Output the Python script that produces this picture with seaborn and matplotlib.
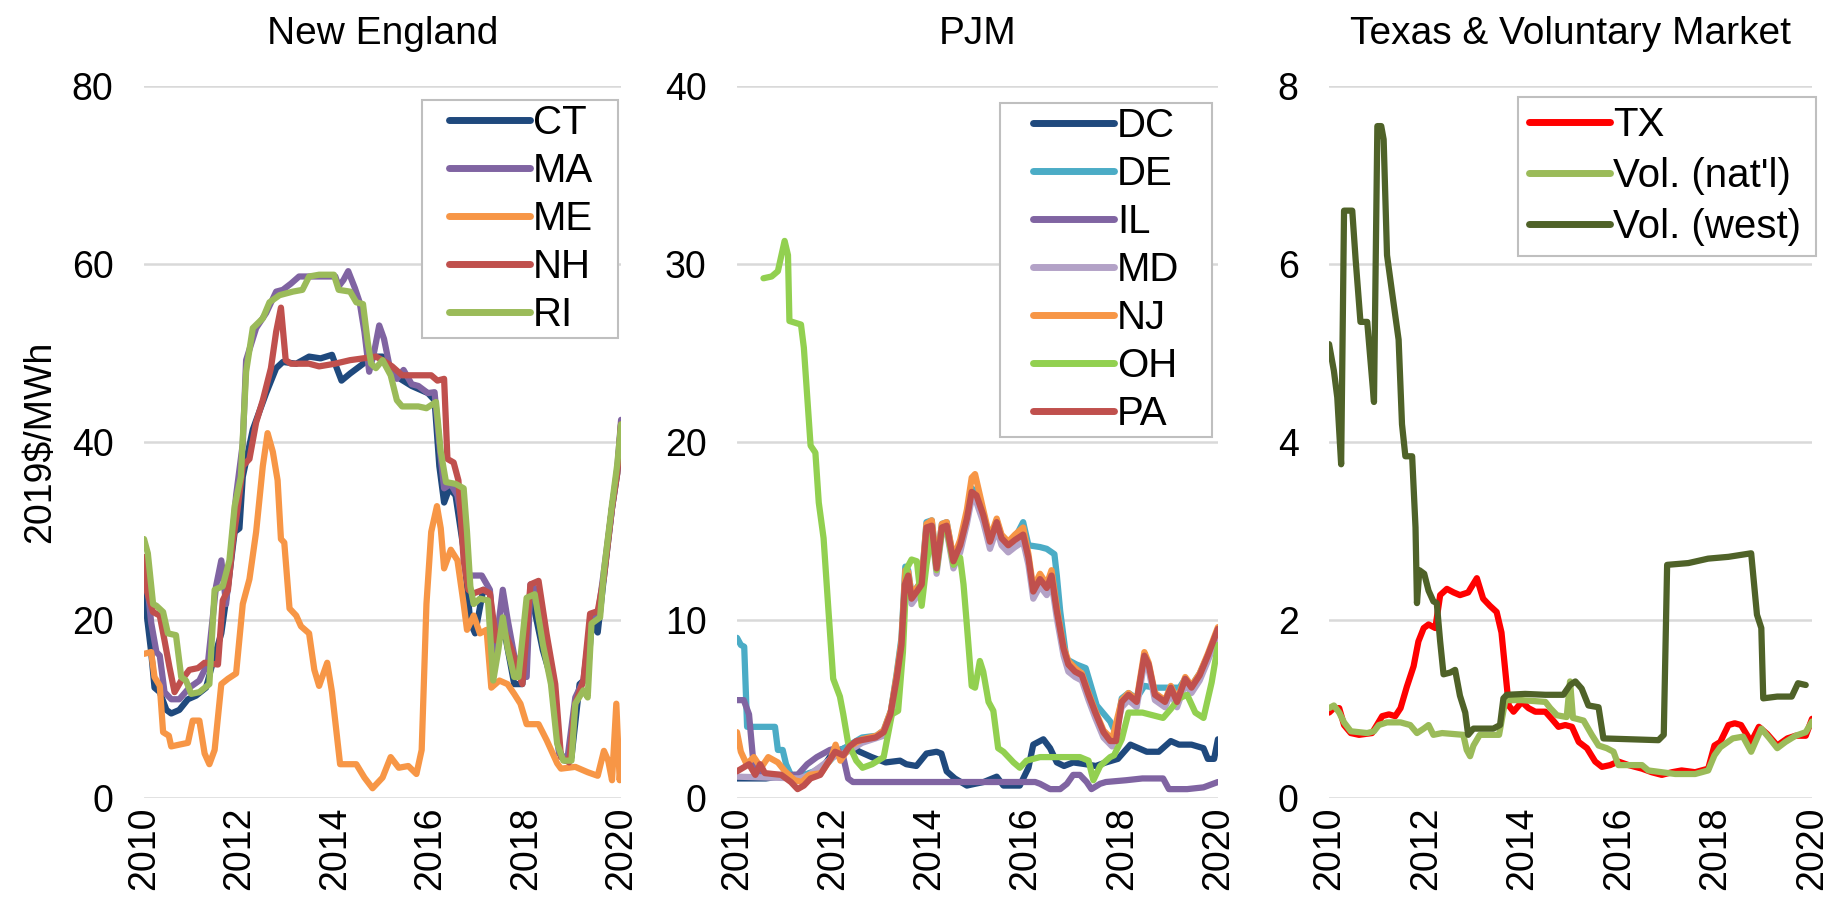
"""
REC price history by market: three side-by-side seaborn line panels
(New England, PJM, Texas & voluntary market), 2010-2020.
"""

import numpy as np
import pandas as pd
import matplotlib.pyplot as plt
import seaborn as sns
from matplotlib.lines import Line2D
from matplotlib.legend_handler import HandlerLine2D

# ---- New England (2019$/MWh), (year, value) pairs ----
ct = [(2010.0, 23.4), (2010.05, 20.9), (2010.15, 16.4), (2010.22, 12.4), (2010.33, 11.9),
      (2010.47, 9.9), (2010.57, 9.5), (2010.74, 9.9), (2010.92, 11.1), (2011.09, 11.5),
      (2011.30, 12.4), (2011.44, 15.2), (2011.62, 18.5), (2011.76, 23.8), (2011.90, 29.9),
      (2012.0, 30.3), (2012.07, 36.1), (2012.28, 41.4), (2012.56, 45.5), (2012.77, 48.3),
      (2012.91, 49.0), (2013.19, 48.8), (2013.46, 49.6), (2013.70, 49.4), (2013.94, 49.8),
      (2014.04, 48.3), (2014.14, 46.9), (2014.32, 47.7), (2014.52, 48.5), (2014.69, 49.2),
      (2014.86, 49.6), (2015.0, 49.6), (2015.20, 48.3), (2015.37, 47.1), (2015.61, 46.3),
      (2015.95, 45.5), (2016.09, 44.7), (2016.19, 37.3), (2016.29, 33.2), (2016.40, 34.8),
      (2016.53, 34.0), (2016.70, 27.9), (2016.84, 19.7), (2016.94, 18.5), (2017.11, 23.4),
      (2017.25, 23.0), (2017.35, 16.0), (2017.45, 19.3), (2017.59, 17.7), (2017.76, 12.8),
      (2017.93, 12.8), (2018.10, 23.3), (2018.36, 16.6), (2018.57, 12.8), (2018.70, 5.3),
      (2018.83, 4.2), (2018.96, 4.6), (2019.13, 12.8), (2019.30, 13.6), (2019.38, 19.6),
      (2019.51, 18.6), (2019.64, 24.8), (2019.81, 32.6), (2019.92, 36.5), (2020.0, 42.0)]
ma = [(2010.0, 25.8), (2010.08, 23.4), (2010.15, 19.7), (2010.26, 16.4), (2010.33, 16.0),
      (2010.43, 11.9), (2010.57, 11.1), (2010.74, 11.1), (2010.95, 12.4), (2011.16, 13.2),
      (2011.34, 15.2), (2011.51, 23.8), (2011.62, 26.7), (2011.72, 21.8), (2011.83, 27.9),
      (2011.93, 34.0), (2012.07, 39.8), (2012.14, 49.2), (2012.35, 52.8), (2012.56, 54.5),
      (2012.77, 56.9), (2012.91, 57.1), (2013.08, 57.8), (2013.25, 58.6), (2013.46, 58.6),
      (2013.77, 58.6), (2014.01, 58.6), (2014.08, 57.5), (2014.18, 58.2), (2014.28, 59.2),
      (2014.42, 57.3), (2014.52, 55.7), (2014.62, 52.4), (2014.72, 47.9), (2014.83, 50.3),
      (2014.93, 53.1), (2015.03, 51.6), (2015.17, 47.9), (2015.30, 47.1), (2015.44, 48.1),
      (2015.61, 46.5), (2015.75, 46.3), (2015.95, 45.5), (2016.09, 45.6), (2016.19, 39.8),
      (2016.29, 34.8), (2016.43, 35.3), (2016.57, 34.0), (2016.70, 29.9), (2016.80, 25.0),
      (2016.94, 25.0), (2017.08, 25.0), (2017.25, 23.4), (2017.35, 16.0), (2017.52, 23.4),
      (2017.62, 20.1), (2017.76, 16.0), (2018.02, 13.6), (2018.10, 24.0), (2018.20, 23.5),
      (2018.36, 18.1), (2018.53, 13.6), (2018.70, 5.0), (2018.87, 4.2), (2019.04, 11.3),
      (2019.21, 13.2), (2019.38, 20.7), (2019.51, 20.3), (2019.64, 25.5), (2019.81, 32.6),
      (2019.92, 37.0), (2020.0, 42.5)]
me = [(2010.0, 16.2), (2010.15, 16.4), (2010.22, 13.6), (2010.33, 12.6), (2010.40, 7.4),
      (2010.52, 7.0), (2010.57, 5.8), (2010.74, 6.0), (2010.92, 6.2), (2011.02, 8.7),
      (2011.16, 8.7), (2011.27, 5.0), (2011.37, 3.8), (2011.48, 5.4), (2011.62, 12.8),
      (2011.76, 13.4), (2011.93, 14.0), (2012.07, 21.8), (2012.21, 24.6), (2012.35, 29.9),
      (2012.49, 37.3), (2012.59, 41.0), (2012.70, 38.9), (2012.80, 35.7), (2012.87, 29.1),
      (2012.94, 28.7), (2013.05, 21.3), (2013.19, 20.5), (2013.29, 19.3), (2013.46, 18.5),
      (2013.57, 14.4), (2013.67, 12.6), (2013.84, 15.2), (2013.94, 11.9), (2014.11, 3.8),
      (2014.45, 3.8), (2014.62, 2.3), (2014.79, 1.1), (2015.0, 2.3), (2015.17, 4.6),
      (2015.34, 3.4), (2015.54, 3.6), (2015.71, 2.7), (2015.82, 5.4), (2015.92, 21.8),
      (2016.02, 29.9), (2016.14, 32.8), (2016.22, 30.3), (2016.29, 25.8), (2016.43, 27.9),
      (2016.57, 26.7), (2016.70, 21.8), (2016.77, 18.9), (2016.91, 20.5), (2017.04, 18.5),
      (2017.18, 18.9), (2017.28, 12.4), (2017.45, 13.2), (2017.62, 12.8), (2017.76, 11.7),
      (2017.89, 10.6), (2018.02, 8.3), (2018.27, 8.3), (2018.44, 6.5), (2018.66, 3.9),
      (2018.74, 3.3), (2019.04, 3.5), (2019.30, 2.9), (2019.51, 2.5), (2019.64, 5.3),
      (2019.73, 4.2), (2019.81, 2.0), (2019.90, 10.6), (2019.97, 2.0), (2020.0, 3.9)]
nh = [(2010.0, 27.1), (2010.05, 23.4), (2010.19, 20.9), (2010.33, 20.5), (2010.43, 17.7),
      (2010.53, 14.8), (2010.64, 11.9), (2010.78, 13.2), (2010.95, 14.4), (2011.13, 14.6),
      (2011.27, 15.2), (2011.55, 15.0), (2011.65, 22.2), (2011.76, 23.4), (2011.86, 28.7),
      (2011.96, 32.4), (2012.07, 37.3), (2012.21, 38.1), (2012.35, 42.2), (2012.49, 44.7),
      (2012.66, 48.3), (2012.77, 52.4), (2012.87, 55.1), (2012.97, 49.2), (2013.08, 48.8),
      (2013.46, 48.8), (2013.67, 48.5), (2014.0, 48.8), (2014.32, 49.2), (2014.59, 49.4),
      (2014.86, 49.6), (2015.0, 49.2), (2015.20, 48.5), (2015.41, 47.5), (2016.02, 47.5),
      (2016.15, 46.9), (2016.29, 47.1), (2016.36, 38.1), (2016.49, 37.7), (2016.59, 35.7),
      (2016.70, 26.7), (2016.80, 23.4), (2016.91, 23.0), (2017.11, 23.4), (2017.25, 23.0),
      (2017.38, 17.7), (2017.52, 19.3), (2017.69, 16.9), (2017.93, 12.8), (2018.10, 24.0),
      (2018.27, 24.4), (2018.44, 18.4), (2018.62, 12.8), (2018.74, 4.6), (2018.91, 4.0),
      (2019.04, 10.6), (2019.21, 13.2), (2019.35, 20.7), (2019.51, 21.0), (2019.64, 24.8),
      (2019.81, 32.6), (2019.92, 36.5), (2020.0, 42.0)]
ri = [(2010.0, 29.1), (2010.08, 27.5), (2010.19, 21.8), (2010.26, 21.6), (2010.40, 20.9),
      (2010.50, 18.5), (2010.67, 18.3), (2010.78, 13.6), (2010.88, 13.2), (2010.99, 11.7),
      (2011.16, 11.9), (2011.37, 12.8), (2011.48, 23.4), (2011.65, 23.8), (2011.79, 26.7),
      (2011.90, 32.8), (2012.03, 36.1), (2012.14, 47.9), (2012.28, 52.8), (2012.49, 53.9),
      (2012.63, 55.7), (2012.84, 56.5), (2013.12, 56.9), (2013.32, 57.1), (2013.46, 58.6),
      (2013.67, 58.8), (2013.98, 58.8), (2014.08, 57.1), (2014.32, 56.9), (2014.45, 55.7),
      (2014.59, 55.5), (2014.69, 51.2), (2014.76, 48.8), (2014.86, 48.3), (2015.0, 49.2),
      (2015.17, 47.5), (2015.30, 44.7), (2015.41, 44.0), (2015.75, 44.0), (2015.92, 43.8),
      (2016.12, 44.5), (2016.22, 38.9), (2016.33, 35.5), (2016.53, 35.3), (2016.70, 34.8),
      (2016.77, 29.9), (2016.84, 23.8), (2016.91, 21.8), (2017.04, 22.4), (2017.21, 22.2),
      (2017.32, 13.2), (2017.42, 16.4), (2017.52, 20.3), (2017.62, 16.9), (2017.76, 13.6),
      (2017.85, 13.6), (2018.02, 22.5), (2018.19, 22.9), (2018.36, 17.3), (2018.53, 12.8),
      (2018.66, 6.1), (2018.79, 4.2), (2018.96, 4.2), (2019.04, 10.6), (2019.21, 12.1),
      (2019.30, 11.3), (2019.38, 19.6), (2019.56, 20.3), (2019.64, 25.5), (2019.81, 33.0),
      (2019.92, 37.5), (2020.0, 42.0)]

# ---- PJM ----
dc = [(2010.0, 1.1), (2010.6, 1.1), (2011.12, 1.3), (2011.4, 1.3), (2011.73, 1.5),
      (2011.93, 2.3), (2012.14, 2.7), (2012.34, 2.9), (2012.55, 2.6), (2012.80, 2.3),
      (2013.09, 2.0), (2013.39, 2.1), (2013.52, 1.9), (2013.73, 1.8), (2013.94, 2.5),
      (2014.15, 2.6), (2014.25, 2.5), (2014.36, 1.5), (2014.53, 1.1), (2014.78, 0.7),
      (2014.95, 0.8), (2015.13, 0.9), (2015.40, 1.2), (2015.54, 0.7), (2015.88, 0.7),
      (2016.06, 1.7), (2016.16, 3.0), (2016.37, 3.3), (2016.51, 2.8), (2016.65, 2.0),
      (2016.80, 1.8), (2016.99, 2.0), (2017.25, 1.9), (2017.46, 1.8), (2017.67, 2.0),
      (2017.92, 2.2), (2018.18, 3.0), (2018.52, 2.6), (2018.77, 2.6), (2019.02, 3.2),
      (2019.19, 3.0), (2019.45, 3.0), (2019.70, 2.8), (2019.79, 2.2), (2019.92, 2.2),
      (2020.0, 3.3)]
de = [(2010.0, 9.0), (2010.08, 8.6), (2010.15, 8.5), (2010.21, 4.0), (2010.79, 4.0),
      (2010.85, 2.7), (2010.95, 2.7), (2011.02, 1.9), (2011.12, 1.3), (2011.3, 1.2),
      (2011.6, 1.5), (2011.9, 2.0), (2012.1, 2.6), (2012.35, 3.0), (2012.6, 3.4),
      (2012.9, 3.5), (2013.05, 3.8), (2013.2, 4.9), (2013.32, 7.0), (2013.42, 9.0),
      (2013.5, 13.0), (2013.56, 12.8), (2013.63, 11.4), (2013.84, 12.2), (2013.94, 15.5),
      (2014.05, 15.6), (2014.15, 13.1), (2014.26, 15.4), (2014.36, 15.5), (2014.5, 13.4),
      (2014.64, 14.3), (2014.78, 15.9), (2014.88, 17.4), (2014.98, 17.2), (2015.12, 16.0),
      (2015.26, 14.5), (2015.4, 15.6), (2015.5, 14.7), (2015.64, 14.3), (2015.78, 14.6),
      (2015.95, 15.5), (2016.06, 14.2), (2016.3, 14.1), (2016.44, 14.0), (2016.6, 13.7),
      (2016.65, 12.5), (2016.72, 10.5), (2016.85, 7.8), (2017.06, 7.5), (2017.25, 7.3),
      (2017.48, 5.2), (2017.76, 4.3), (2017.88, 3.6), (2018.0, 5.6), (2018.14, 5.9),
      (2018.31, 5.6), (2018.47, 6.3), (2018.7, 6.2), (2019.2, 6.2), (2019.32, 6.7),
      (2019.45, 6.3), (2019.62, 7.0), (2019.79, 8.0), (2020.0, 9.3)]
il = [(2010.0, 5.5), (2010.14, 5.5), (2010.25, 4.7), (2010.35, 1.7), (2010.5, 1.3),
      (2011.26, 1.3), (2011.46, 1.9), (2011.66, 2.3), (2011.93, 2.7), (2012.07, 2.8),
      (2012.21, 2.3), (2012.31, 1.1), (2012.41, 0.9), (2016.2, 0.9), (2016.30, 0.8),
      (2016.51, 0.5), (2016.72, 0.5), (2016.86, 0.8), (2016.99, 1.3), (2017.13, 1.3),
      (2017.27, 0.9), (2017.37, 0.5), (2017.55, 0.8), (2017.67, 0.9), (2018.09, 1.0),
      (2018.43, 1.1), (2018.86, 1.1), (2018.98, 0.5), (2019.36, 0.5), (2019.70, 0.6),
      (2020.0, 0.9)]
md = [(2010.0, 1.2), (2011.3, 1.1), (2011.5, 1.3), (2011.75, 1.8), (2012.0, 2.3),
      (2012.3, 2.6), (2012.6, 3.1), (2013.05, 3.5), (2013.2, 4.5), (2013.32, 6.5),
      (2013.42, 8.3), (2013.5, 12.2), (2013.56, 12.2), (2013.63, 10.9), (2013.84, 11.7),
      (2013.94, 14.9), (2014.05, 15.0), (2014.15, 12.6), (2014.26, 14.9), (2014.36, 15.0),
      (2014.5, 12.9), (2014.64, 13.8), (2014.78, 15.4), (2014.88, 16.8), (2014.98, 16.6),
      (2015.12, 15.5), (2015.26, 14.0), (2015.4, 15.1), (2015.5, 14.2), (2015.64, 13.8),
      (2015.78, 14.1), (2015.95, 14.4), (2016.06, 13.1), (2016.16, 11.2), (2016.3, 11.9),
      (2016.44, 11.4), (2016.54, 12.1), (2016.65, 10.1), (2016.79, 8.0), (2016.89, 7.1),
      (2017.03, 6.8), (2017.17, 6.6), (2017.31, 5.5), (2017.45, 4.5), (2017.62, 3.4),
      (2017.8, 2.9), (2018.0, 5.1), (2018.14, 5.5), (2018.31, 5.1), (2018.47, 7.6),
      (2018.56, 7.2), (2018.69, 5.5), (2018.9, 5.1), (2019.02, 5.9), (2019.15, 5.1),
      (2019.32, 6.4), (2019.45, 5.9), (2019.62, 6.6), (2019.79, 7.7), (2020.0, 9.2)]
nj = [(2010.0, 3.7), (2010.08, 2.6), (2010.2, 1.9), (2010.35, 2.3), (2010.5, 1.7),
      (2010.65, 2.3), (2010.85, 2.0), (2011.0, 1.5), (2011.2, 1.0), (2011.35, 0.9),
      (2011.5, 1.3), (2011.75, 1.4), (2011.95, 2.2), (2012.05, 3.0), (2012.15, 2.1),
      (2012.35, 2.9), (2012.6, 3.3), (2012.9, 3.5), (2013.05, 3.8), (2013.2, 4.9),
      (2013.32, 6.9), (2013.42, 8.8), (2013.5, 12.8), (2013.56, 12.7), (2013.63, 11.4),
      (2013.84, 12.2), (2013.94, 15.4), (2014.05, 15.6), (2014.15, 13.1), (2014.26, 15.4),
      (2014.36, 15.5), (2014.5, 13.5), (2014.64, 14.5), (2014.78, 16.2), (2014.88, 18.0),
      (2014.95, 18.2), (2015.12, 16.2), (2015.26, 14.6), (2015.4, 15.7), (2015.5, 14.8),
      (2015.64, 14.4), (2015.78, 14.8), (2015.95, 15.2), (2016.06, 13.7), (2016.16, 11.8),
      (2016.3, 12.6), (2016.44, 12.0), (2016.54, 12.8), (2016.65, 10.7), (2016.79, 8.5),
      (2016.89, 7.7), (2017.03, 7.3), (2017.17, 7.0), (2017.31, 5.9), (2017.45, 4.9),
      (2017.62, 3.8), (2017.8, 3.3), (2018.0, 5.5), (2018.14, 5.9), (2018.31, 5.5),
      (2018.47, 8.2), (2018.56, 7.6), (2018.69, 5.9), (2018.9, 5.5), (2019.02, 6.3),
      (2019.15, 5.5), (2019.32, 6.8), (2019.45, 6.3), (2019.62, 7.0), (2019.79, 8.1),
      (2020.0, 9.6)]
oh = [(2010.55, 29.2), (2010.72, 29.3), (2010.85, 29.6), (2010.99, 31.3), (2011.06, 30.5),
      (2011.09, 26.8), (2011.33, 26.6), (2011.39, 25.3), (2011.53, 19.8), (2011.63, 19.4),
      (2011.70, 16.6), (2011.80, 14.6), (2011.90, 10.6), (2012.0, 6.7), (2012.14, 5.7),
      (2012.21, 4.7), (2012.31, 3.1), (2012.48, 2.1), (2012.61, 1.7), (2012.81, 1.9),
      (2013.05, 2.3), (2013.22, 4.7), (2013.35, 4.9), (2013.45, 8.2), (2013.53, 12.9),
      (2013.63, 13.4), (2013.74, 13.3), (2013.84, 10.8), (2013.94, 13.1), (2014.05, 15.0),
      (2014.15, 12.8), (2014.26, 15.0), (2014.36, 15.1), (2014.50, 13.1), (2014.64, 13.5),
      (2014.71, 12.0), (2014.78, 9.7), (2014.88, 6.3), (2014.95, 6.2), (2015.05, 7.7),
      (2015.12, 7.1), (2015.23, 5.4), (2015.33, 4.9), (2015.43, 2.8), (2015.54, 2.6),
      (2015.75, 2.0), (2015.88, 1.7), (2016.02, 2.1), (2016.30, 2.3), (2016.65, 2.3),
      (2017.13, 2.3), (2017.31, 2.1), (2017.41, 1.0), (2017.55, 1.8), (2017.76, 2.3),
      (2017.84, 2.4), (2018.0, 3.3), (2018.14, 4.8), (2018.43, 4.8), (2018.86, 4.5),
      (2019.02, 5.0), (2019.19, 5.6), (2019.36, 5.8), (2019.53, 4.8), (2019.70, 4.5),
      (2019.87, 6.5), (2020.0, 8.6)]
pa = [(2010.0, 1.5), (2010.25, 1.9), (2010.38, 1.3), (2010.48, 1.9), (2010.58, 1.4),
      (2010.92, 1.3), (2011.12, 0.9), (2011.26, 0.5), (2011.39, 0.7), (2011.53, 1.1),
      (2011.73, 1.3), (2011.87, 1.9), (2012.04, 2.6), (2012.21, 2.4), (2012.34, 2.9),
      (2012.48, 3.2), (2012.68, 3.3), (2012.88, 3.4), (2013.05, 3.7), (2013.19, 4.7),
      (2013.32, 6.7), (2013.42, 8.6), (2013.49, 12.0), (2013.56, 12.5), (2013.63, 11.2),
      (2013.74, 11.6), (2013.84, 12.0), (2013.94, 15.2), (2014.05, 15.3), (2014.15, 12.9),
      (2014.26, 15.2), (2014.36, 15.3), (2014.50, 13.3), (2014.64, 14.2), (2014.78, 15.7),
      (2014.88, 17.2), (2014.98, 17.0), (2015.12, 15.9), (2015.26, 14.4), (2015.40, 15.5),
      (2015.50, 14.6), (2015.64, 14.2), (2015.78, 14.5), (2015.95, 14.8), (2016.06, 13.5),
      (2016.16, 11.6), (2016.30, 12.3), (2016.44, 11.8), (2016.54, 12.5), (2016.65, 10.5),
      (2016.79, 8.4), (2016.89, 7.5), (2017.03, 7.1), (2017.17, 6.9), (2017.31, 5.8),
      (2017.45, 4.8), (2017.62, 3.7), (2017.76, 3.2), (2017.88, 3.2), (2018.0, 5.4),
      (2018.14, 5.8), (2018.31, 5.4), (2018.47, 8.0), (2018.56, 7.5), (2018.69, 5.8),
      (2018.90, 5.4), (2019.02, 6.2), (2019.15, 5.4), (2019.32, 6.7), (2019.45, 6.2),
      (2019.62, 6.9), (2019.79, 8.0), (2020.0, 9.5)]

# ---- Texas & voluntary ----
tx = [(2010.0, 0.96), (2010.10, 1.01), (2010.21, 1.01), (2010.31, 0.82), (2010.45, 0.73),
      (2010.62, 0.71), (2010.89, 0.73), (2010.99, 0.82), (2011.10, 0.92), (2011.24, 0.94),
      (2011.37, 0.92), (2011.48, 1.01), (2011.61, 1.25), (2011.75, 1.48), (2011.85, 1.76),
      (2011.96, 1.91), (2012.06, 1.95), (2012.20, 1.91), (2012.30, 2.28), (2012.44, 2.35),
      (2012.58, 2.31), (2012.71, 2.28), (2012.88, 2.31), (2013.06, 2.47), (2013.19, 2.24),
      (2013.33, 2.16), (2013.47, 2.09), (2013.57, 1.86), (2013.61, 1.64), (2013.72, 1.04),
      (2013.82, 0.97), (2013.99, 1.08), (2014.13, 1.01), (2014.27, 0.97), (2014.48, 0.97),
      (2014.61, 0.89), (2014.75, 0.80), (2014.89, 0.82), (2015.03, 0.80), (2015.17, 0.63),
      (2015.34, 0.56), (2015.51, 0.41), (2015.65, 0.35), (2015.82, 0.37), (2015.99, 0.41),
      (2016.20, 0.37), (2016.48, 0.33), (2016.68, 0.29), (2016.89, 0.26), (2017.10, 0.29),
      (2017.30, 0.31), (2017.58, 0.29), (2017.85, 0.33), (2017.98, 0.59), (2018.10, 0.63),
      (2018.27, 0.82), (2018.40, 0.84), (2018.53, 0.82), (2018.74, 0.63), (2018.90, 0.80),
      (2019.07, 0.72), (2019.28, 0.59), (2019.49, 0.67), (2019.66, 0.70), (2019.87, 0.70),
      (2020.0, 0.89)]
vol_natl = [(2010.0, 1.01), (2010.10, 1.04), (2010.21, 0.96), (2010.31, 0.85), (2010.45, 0.75),
            (2010.79, 0.73), (2010.93, 0.75), (2011.03, 0.82), (2011.20, 0.85), (2011.48, 0.85),
            (2011.68, 0.82), (2011.82, 0.73), (2011.96, 0.78), (2012.06, 0.82), (2012.16, 0.71),
            (2012.34, 0.73), (2012.78, 0.71), (2012.85, 0.54), (2012.92, 0.47), (2012.99, 0.59),
            (2013.12, 0.71), (2013.52, 0.71), (2013.65, 1.10), (2013.99, 1.10), (2014.48, 1.08),
            (2014.58, 1.01), (2014.72, 0.93), (2014.92, 0.91), (2014.99, 1.31), (2015.05, 0.90),
            (2015.13, 0.89), (2015.27, 0.87), (2015.44, 0.71), (2015.58, 0.59), (2015.75, 0.56),
            (2015.89, 0.52), (2015.99, 0.37), (2016.48, 0.37), (2016.61, 0.31), (2016.89, 0.29),
            (2017.17, 0.27), (2017.58, 0.27), (2017.85, 0.31), (2017.98, 0.48), (2018.10, 0.57),
            (2018.36, 0.67), (2018.57, 0.69), (2018.74, 0.52), (2018.95, 0.78), (2019.12, 0.67),
            (2019.28, 0.56), (2019.45, 0.63), (2019.66, 0.70), (2019.87, 0.74), (2020.0, 0.86)]
vol_west = [(2010.0, 5.1), (2010.10, 4.8), (2010.17, 4.5), (2010.25, 3.75), (2010.31, 6.6),
            (2010.48, 6.6), (2010.55, 6.05), (2010.65, 5.35), (2010.79, 5.35), (2010.86, 4.9),
            (2010.93, 4.45), (2011.0, 7.55), (2011.08, 7.55), (2011.13, 7.4), (2011.20, 6.1),
            (2011.30, 5.7), (2011.44, 5.15), (2011.51, 4.2), (2011.58, 3.84), (2011.72, 3.84),
            (2011.79, 3.04), (2011.82, 2.19), (2011.87, 2.56), (2011.97, 2.52), (2012.06, 2.33),
            (2012.16, 2.21), (2012.23, 2.19), (2012.30, 1.76), (2012.37, 1.39), (2012.51, 1.41),
            (2012.61, 1.44), (2012.71, 1.15), (2012.82, 0.96), (2012.88, 0.71), (2012.99, 0.78),
            (2013.40, 0.78), (2013.54, 0.82), (2013.61, 1.12), (2013.68, 1.16), (2014.06, 1.17),
            (2014.48, 1.16), (2014.85, 1.16), (2014.99, 1.27), (2015.10, 1.31), (2015.23, 1.23),
            (2015.37, 1.04), (2015.58, 1.02), (2015.68, 0.67), (2016.82, 0.65), (2016.93, 0.71),
            (2017.0, 2.62), (2017.44, 2.64), (2017.85, 2.69), (2018.27, 2.71), (2018.74, 2.75),
            (2018.86, 2.06), (2018.95, 1.91), (2018.99, 1.12), (2019.28, 1.14), (2019.58, 1.14),
            (2019.71, 1.29), (2019.87, 1.27)]

NE_SERIES = {"CT": ct, "MA": ma, "ME": me, "NH": nh, "RI": ri}
NE_COLORS = {"CT": "#1F497D", "MA": "#8064A2", "ME": "#F79646", "NH": "#C0504D", "RI": "#9BBB59"}
PJM_SERIES = {"DC": dc, "DE": de, "IL": il, "MD": md, "NJ": nj, "OH": oh, "PA": pa}
PJM_COLORS = {"DC": "#1F497D", "DE": "#4BACC6", "IL": "#8064A2", "MD": "#B3A2C7",
              "NJ": "#F79646", "OH": "#92D050", "PA": "#C0504D"}
TX_SERIES = {"TX": tx, "Vol. (nat'l)": vol_natl, "Vol. (west)": vol_west}
TX_COLORS = {"TX": "#FF0000", "Vol. (nat'l)": "#9BBB59", "Vol. (west)": "#4F6228"}

FONT = 27
LEG_FONT = 29
LW = 4.5
GRID = "#D9D9D9"


class InsetLine(HandlerLine2D):
    """Legend line that starts `inset` ems into the handle box (Excel-style padding)."""

    def __init__(self, inset, **kw):
        super().__init__(**kw)
        self.inset = inset

    def get_xdata(self, legend, xdescent, ydescent, width, height, fontsize):
        x = np.array([-xdescent + self.inset * fontsize, -xdescent + width], dtype=float)
        return x, x


def to_frame(series: dict) -> pd.DataFrame:
    rows = [(name, yr, val) for name, pts in series.items() for yr, val in pts]
    return pd.DataFrame(rows, columns=["series", "year", "value"])


def draw_panel(ax, series, colors, title, ymax, ystep, leg_box, inset, spacing, pad):
    df = to_frame(series)
    sns.lineplot(data=df, x="year", y="value", hue="series", hue_order=list(series),
                 palette=colors, estimator=None, sort=False, linewidth=LW, ax=ax)

    ax.set_xlim(2010, 2020)
    ax.set_ylim(0, ymax)
    ax.set_xticks(range(2010, 2021, 2))
    ax.set_yticks(range(0, ymax + 1, ystep))
    ax.tick_params(axis="x", labelrotation=90, length=0, pad=6, labelsize=FONT)
    ax.tick_params(axis="y", length=0, pad=22, labelsize=FONT)
    ax.grid(axis="y", color=GRID, linewidth=1.8)
    ax.grid(axis="x", visible=False)
    ax.set_axisbelow(True)
    for s in ax.spines.values():
        s.set_visible(False)
    ax.set_xlabel("")
    ax.set_ylabel("")
    ax.set_title(title, fontsize=28, pad=30)

    handles, labels = ax.get_legend_handles_labels()
    leg = ax.legend(handles, labels, loc="upper left", bbox_to_anchor=leg_box,
                    mode="expand", borderaxespad=0, frameon=True, fancybox=False,
                    framealpha=1, edgecolor="#BFBFBF", fontsize=LEG_FONT,
                    handlelength=2.0 + inset, handletextpad=0.08,
                    labelspacing=spacing, borderpad=pad,
                    handler_map={Line2D: InsetLine(inset)})
    leg.get_frame().set_linewidth(1.5)
    for line in leg.get_lines():
        line.set_linewidth(5)


sns.set_theme(style="white", rc={"text.color": "black", "axes.labelcolor": "black",
                                 "xtick.color": "black", "ytick.color": "black"})
plt.rcParams["font.family"] = ["Liberation Sans", "DejaVu Sans"]

fig = plt.figure(figsize=(18.37, 9.0), dpi=100)
bottom, height = 0.1133, 0.7911
ax1 = fig.add_axes([0.0784, bottom, 0.2597, height])
ax2 = fig.add_axes([0.4012, bottom, 0.2618, height])
ax3 = fig.add_axes([0.7235, bottom, 0.2629, height])

draw_panel(ax1, NE_SERIES, NE_COLORS, "New England", 80, 20,
           (0.583, 0, 0.411, 0.980), inset=0.58, spacing=0.25, pad=0.09)
draw_panel(ax2, PJM_SERIES, PJM_COLORS, "PJM", 40, 10,
           (0.547, 0, 0.441, 0.976), inset=0.73, spacing=0.25, pad=0.09)
draw_panel(ax3, TX_SERIES, TX_COLORS, "Texas & Voluntary Market", 8, 2,
           (0.391, 0, 0.617, 0.985), inset=0.04, spacing=0.32, pad=0.24)

ax1.set_ylabel(r"2019\$/MWh", fontsize=FONT, labelpad=10)

fig.savefig("out.png", dpi=100)
plt.close(fig)
